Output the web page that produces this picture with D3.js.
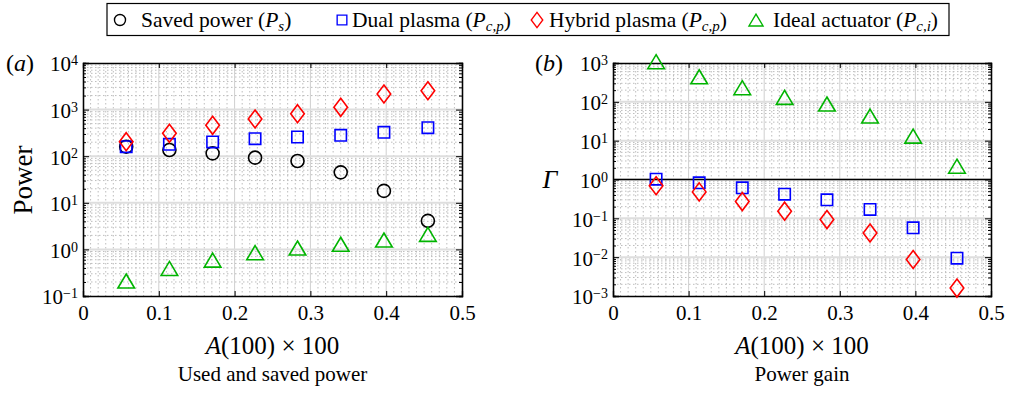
<!DOCTYPE html>
<html>
<head>
<meta charset="utf-8">
<script src="https://cdn.jsdelivr.net/npm/d3@7"></script>
<style>
  body { margin: 0; background: #fff; }
  svg, svg text { font-family: "Liberation Serif", "Times New Roman", serif; }
</style>
</head>
<body>
<div id="chart"></div>
<script>
// data
var xVals = [0.057, 0.114, 0.171, 0.227, 0.283, 0.340, 0.397, 0.455];
var savedPower = [160, 136, 115, 93, 79, 45, 18, 4.1];
var dualPower = [160, 180, 202, 238, 258, 281, 326, 409];
var hybridPower = [205, 310, 460, 628, 817, 1120, 2160, 2540];
var idealPower = [0.21, 0.39, 0.59, 0.85, 1.07, 1.29, 1.59, 2.1];
var dualGain = [1.02, 0.82, 0.61, 0.42, 0.30, 0.17, 0.057, 0.0094];
var hybridGain = [0.69, 0.48, 0.27, 0.153, 0.093, 0.042, 0.0087, 0.0016];
var idealGain = [1080, 443, 231, 130, 88, 43, 13.1, 2.2];
var xTicks = [0, 0.1, 0.2, 0.3, 0.4, 0.5];
var powerExps = [-1, 0, 1, 2, 3, 4];
var gainExps = [-3, -2, -1, 0, 1, 2, 3];

var serif = '"Liberation Serif", "Times New Roman", serif';
var W = 1011, H = 393;
var svg = d3.select("#chart").append("svg")
  .attr("width", W)
  .attr("height", H);

var colors = { saved: "#000000", dual: "#0000ff", hybrid: "#ff0000", ideal: "#00b400" };

function marker(sel, type, color) {
  sel.attr("fill", "none").attr("stroke", color).attr("stroke-width", 1.6);
  if (type == "circle") {
    sel.attr("d", "M-6.5,0A6.5,6.5 0 1,0 6.5,0A6.5,6.5 0 1,0 -6.5,0Z");
  } else if (type == "square") {
    sel.attr("d", "M-5.7,-5.7H5.7V5.7H-5.7Z");
  } else if (type == "diamond") {
    sel.attr("d", "M0,-9L6.8,0L0,9L-6.8,0Z");
  } else {
    sel.attr("d", "M0,-7L8.3,7H-8.3Z");
  }
}

function supLabel(text, exp) {
  text.text(null);
  text.append("tspan").text("10");
  text.append("tspan")
    .attr("dy", "-0.45em")
    .style("font-size", "14px")
    .text(exp < 0 ? "\u2212" + (-exp) : exp);
}

function drawPanel(cfg) {
  var g = svg.append("g").attr("transform", "translate(" + cfg.left + "," + cfg.top + ")");
  var w = cfg.width, h = cfg.height;
  var x = d3.scaleLinear().domain([0, 0.5]).range([0, w]);
  var y = d3.scaleLog().domain(cfg.yDomain).range([h, 0]);

  // minor grid (dotted)
  var minorX = d3.range(1, 50).filter(function(i) { return i % 10 != 0; }).map(function(i) { return i / 100; });
  g.append("g").selectAll("line").data(minorX).enter().append("line")
    .attr("x1", function(d) { return x(d); }).attr("x2", function(d) { return x(d); })
    .attr("y1", 0).attr("y2", h)
    .attr("stroke", "#bdbdbd").attr("stroke-width", 1).attr("stroke-dasharray", "1.5,2.5");
  var minorY = [];
  for (var e = cfg.exps[0]; e < cfg.exps[cfg.exps.length - 1]; e++) {
    for (var m = 2; m <= 9; m++) minorY.push(m * Math.pow(10, e));
  }
  g.append("g").selectAll("line").data(minorY).enter().append("line")
    .attr("x1", 0).attr("x2", w)
    .attr("y1", function(d) { return y(d); }).attr("y2", function(d) { return y(d); })
    .attr("stroke", "#bdbdbd").attr("stroke-width", 1).attr("stroke-dasharray", "1.5,2.5");

  // major grid
  g.append("g").selectAll("line").data(xTicks.slice(1, -1)).enter().append("line")
    .attr("x1", function(d) { return x(d); }).attr("x2", function(d) { return x(d); })
    .attr("y1", 0).attr("y2", h)
    .attr("stroke", "#cfcfcf").attr("stroke-width", 1);
  g.append("g").selectAll("line").data(cfg.exps.slice(1, -1)).enter().append("line")
    .attr("x1", 0).attr("x2", w)
    .attr("y1", function(d) { return y(Math.pow(10, d)); }).attr("y2", function(d) { return y(Math.pow(10, d)); })
    .attr("stroke", "#dedede").attr("stroke-width", 2);

  if (cfg.unityLine) {
    g.append("line")
      .attr("x1", 0).attr("x2", w)
      .attr("y1", y(1)).attr("y2", y(1))
      .attr("stroke", "#000").attr("stroke-width", 1.3);
  }

  // axes
  var yTickVals = cfg.exps.map(function(d) { return Math.pow(10, d); });
  var yl = g.append("g")
    .call(d3.axisLeft(y).tickValues(yTickVals).tickSize(-6).tickPadding(5).tickFormat(""));
  yl.selectAll(".tick text").each(function(d) {
    supLabel(d3.select(this), Math.round(Math.log10(d)));
  });
  yl.selectAll(".tick text").attr("dy", "0.38em")
    .style("font-family", serif).style("font-size", "21px").attr("fill", "#000");
  g.append("g").attr("transform", "translate(" + w + ",0)")
    .call(d3.axisRight(y).tickValues(yTickVals).tickSize(-6).tickFormat(""));
  g.append("g").call(d3.axisLeft(y).tickValues(minorY).tickSize(-3).tickFormat(""));
  g.append("g").attr("transform", "translate(" + w + ",0)")
    .call(d3.axisRight(y).tickValues(minorY).tickSize(-3).tickFormat(""));

  var xb = g.append("g").attr("transform", "translate(0," + h + ")")
    .call(d3.axisBottom(x).tickValues(xTicks).tickSize(-5).tickPadding(9)
      .tickFormat(function(d) { return d == 0 ? "0" : d3.format(".1f")(d); }));
  xb.selectAll(".tick text")
    .style("font-family", serif).style("font-size", "21px").attr("fill", "#000");
  g.append("g").call(d3.axisTop(x).tickValues(xTicks).tickSize(-5).tickFormat(""));

  svg.selectAll(".domain").attr("stroke", "#000").attr("stroke-width", 1.3);
  g.selectAll(".tick line").attr("stroke", "#000");

  // points
  cfg.series.forEach(function(s) {
    g.append("g").selectAll("path").data(s.values).enter().append("path")
      .attr("transform", function(d, i) { return "translate(" + x(xVals[i]) + "," + y(d) + ")"; })
      .call(marker, s.type, s.color);
  });

  // labels
  var xl = svg.append("text")
    .attr("x", cfg.left + w / 2).attr("y", 354)
    .attr("text-anchor", "middle")
    .style("font-size", "25px");
  xl.append("tspan").style("font-style", "italic").text("A");
  xl.append("tspan").text("(100) \u00d7 100");

  svg.append("text")
    .attr("x", cfg.left + w / 2).attr("y", 381)
    .attr("text-anchor", "middle")
    .style("font-size", "21px")
    .text(cfg.caption);

  var tag = svg.append("text")
    .attr("x", cfg.tagX).attr("y", 71)
    .style("font-size", "24px");
  tag.append("tspan").text("(");
  tag.append("tspan").style("font-style", "italic").text(cfg.tag);
  tag.append("tspan").text(")");
}

drawPanel({
  left: 83, top: 63, width: 379, height: 233,
  yDomain: [0.1, 10000], exps: powerExps,
  caption: "Used and saved power", tag: "a", tagX: 6,
  series: [
    { values: savedPower, type: "circle", color: colors.saved },
    { values: dualPower, type: "square", color: colors.dual },
    { values: hybridPower, type: "diamond", color: colors.hybrid },
    { values: idealPower, type: "triangle", color: colors.ideal }
  ]
});

drawPanel({
  left: 613, top: 63, width: 378, height: 233,
  yDomain: [0.001, 1000], exps: gainExps, unityLine: true,
  caption: "Power gain", tag: "b", tagX: 535,
  series: [
    { values: dualGain, type: "square", color: colors.dual },
    { values: hybridGain, type: "diamond", color: colors.hybrid },
    { values: idealGain, type: "triangle", color: colors.ideal }
  ]
});

// y labels
svg.append("text")
  .attr("transform", "translate(32,180) rotate(-90)")
  .attr("text-anchor", "middle")
  .style("font-size", "27px")
  .text("Power");
svg.append("text")
  .attr("x", 550).attr("y", 188)
  .attr("text-anchor", "middle")
  .style("font-size", "26px")
  .style("font-style", "italic")
  .text("\u0393");

// legend
var legendItems = [
  { name: "Saved power (", sym: "P", sub: "s", type: "circle", color: colors.saved, mx: 120, tx: 141 },
  { name: "Dual plasma (", sym: "P", sub: "c,p", type: "square", color: colors.dual, mx: 342, tx: 352 },
  { name: "Hybrid plasma (", sym: "P", sub: "c,p", type: "diamond", color: colors.hybrid, mx: 537, tx: 549 },
  { name: "Ideal actuator (", sym: "P", sub: "c,i", type: "triangle", color: colors.ideal, mx: 756, tx: 773 }
];
svg.append("rect")
  .attr("x", 107).attr("y", 3.5).attr("width", 842).attr("height", 32)
  .attr("fill", "#fff").attr("stroke", "#000").attr("stroke-width", 1.2);
var leg = svg.append("g").selectAll("g").data(legendItems).enter().append("g");
leg.append("path")
  .attr("transform", function(d) { return "translate(" + d.mx + ",20) scale(0.85)"; })
  .each(function(d) { d3.select(this).call(marker, d.type, d.color); });
var lt = leg.append("text")
  .attr("x", function(d) { return d.tx; }).attr("y", 27)
  .style("font-size", "21.5px");
lt.append("tspan").text(function(d) { return d.name; });
lt.append("tspan").style("font-style", "italic").text(function(d) { return d.sym; });
lt.append("tspan").attr("dy", 4).style("font-style", "italic").style("font-size", "15px").text(function(d) { return d.sub; });
lt.append("tspan").attr("dy", -4).text(")");
</script>
</body>
</html>
